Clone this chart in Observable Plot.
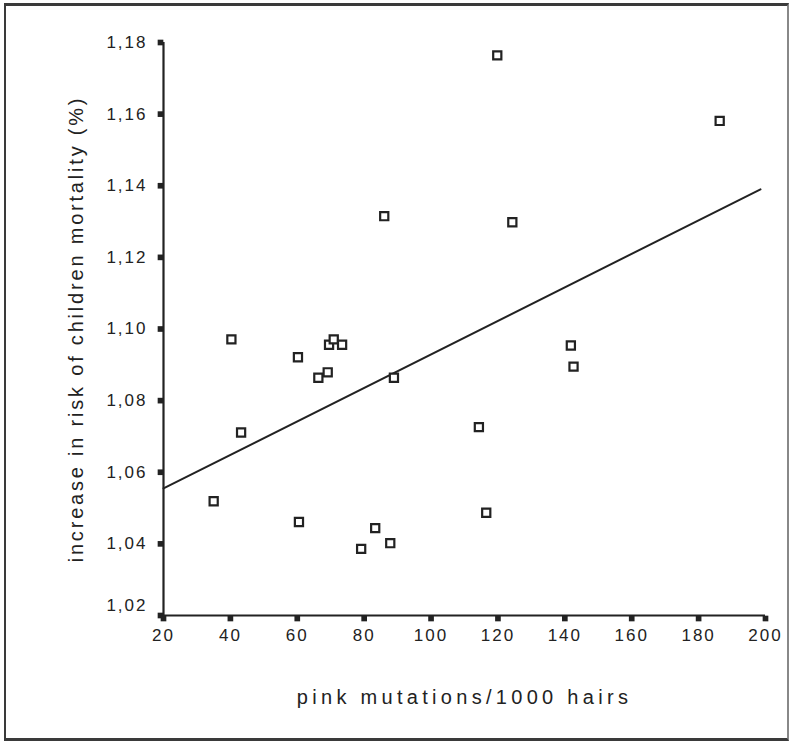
<!DOCTYPE html>
<html><head><meta charset="utf-8">
<script src="https://cdn.jsdelivr.net/npm/d3@7"></script>
<script src="https://cdn.jsdelivr.net/npm/@observablehq/plot@0.6"></script>
<style>
body{margin:0;background:#fff;}
#wrap{position:relative;width:790px;height:741px;overflow:hidden;}
#border{position:absolute;left:4px;top:3px;width:785px;height:738px;border:2px solid #3a3a3a;border-top-width:3px;border-bottom-width:3px;border-right-color:#888;box-sizing:border-box;}
#chart{position:absolute;left:0;top:0;}
</style></head><body>
<div id="wrap"><div id="chart"></div><div id="border"></div></div>
<script>
// pink mutations per 1000 hairs (x) and increase in risk of children mortality (y)
const mutations = [35.0, 40.3, 43.2, 60.2, 60.5, 66.3, 69.1, 69.5, 70.9, 73.4, 79.1, 83.3, 87.8, 88.9, 86.0, 114.3, 116.5, 119.8, 124.3, 141.8, 142.6, 186.3];
const risk      = [1.0519, 1.0971, 1.0711, 1.0921, 1.0461, 1.0864, 1.0879, 1.0956, 1.0971, 1.0956, 1.0386, 1.0444, 1.0402, 1.0864, 1.1315, 1.0726, 1.0487, 1.1764, 1.1298, 1.0954, 1.0895, 1.1581];
// fitted regression line end points
const fitX = [20, 198.5];
const fitY = [1.0555, 1.139];
const xTicks = [20, 40, 60, 80, 100, 120, 140, 160, 180, 200];
const yTicks = [1.02, 1.04, 1.06, 1.08, 1.10, 1.12, 1.14, 1.16, 1.18];
const xTitle = "pink mutations/1000 hairs";
const yTitle = "increase in risk of children mortality (%)";

const points = mutations.map((m, i) => ({x: m, y: risk[i]}));
const fit = fitX.map((x, i) => ({x, y: fitY[i]}));
const ink = "#222";
const fmtY = d => d3.format(".2f")(d).replace(".", ",");

const chart = Plot.plot({
  width: 790,
  height: 741,
  marginLeft: 163,
  marginRight: 25,
  marginTop: 42,
  marginBottom: 126,
  style: {fontFamily: "'Liberation Sans', Arial, sans-serif", color: ink, background: "transparent"},
  x: {domain: [20, 200]},
  y: {domain: [1.02, 1.18]},
  marks: [
    // axis lines
    Plot.ruleX([20], {stroke: ink, strokeWidth: 2.2}),
    Plot.ruleY([1.02], {stroke: ink, strokeWidth: 2.2}),
    // tick squares
    Plot.dot(yTicks, {x: () => 20, y: d => d, symbol: "square", r: 3.2, fill: ink, stroke: "none", dx: -3}),
    Plot.dot(xTicks, {x: d => d, y: () => 1.02, symbol: "square", r: 3.2, fill: ink, stroke: "none", dy: 3}),
    // tick labels
    Plot.axisY(yTicks.slice(1), {tickSize: 0, tickPadding: 16, tickFormat: fmtY, fontSize: 17, label: null}),
    Plot.axisY(yTicks.slice(0, 1), {tickSize: 0, tickPadding: 16, tickFormat: fmtY, fontSize: 17, label: null, dy: -10}),
    Plot.axisX(xTicks, {tickSize: 0, tickPadding: 13, tickFormat: d => String(d), fontSize: 17, label: null}),
    // regression line
    Plot.line(fit, {x: "x", y: "y", stroke: ink, strokeWidth: 2}),
    // points
    Plot.dot(points, {x: "x", y: "y", symbol: "square", r: 4.6, stroke: ink, strokeWidth: 2.2, fill: "white"}),
    // titles
    Plot.text([xTitle], {text: d => d, frameAnchor: "bottom", dy: 88, fontSize: 20, fill: ink}),
    Plot.text([yTitle], {text: d => d, frameAnchor: "left", textAnchor: "middle", dx: -87, rotate: -90, fontSize: 20, fill: ink})
  ]
});
document.getElementById("chart").appendChild(chart);
d3.select(chart).selectAll("text").each(function() {
  const t = this.textContent;
  if (t === xTitle) this.style.letterSpacing = "4.3px";
  else if (t === yTitle) this.style.letterSpacing = "2.8px";
  else this.style.letterSpacing = "2px";
});
</script>
</body></html>
